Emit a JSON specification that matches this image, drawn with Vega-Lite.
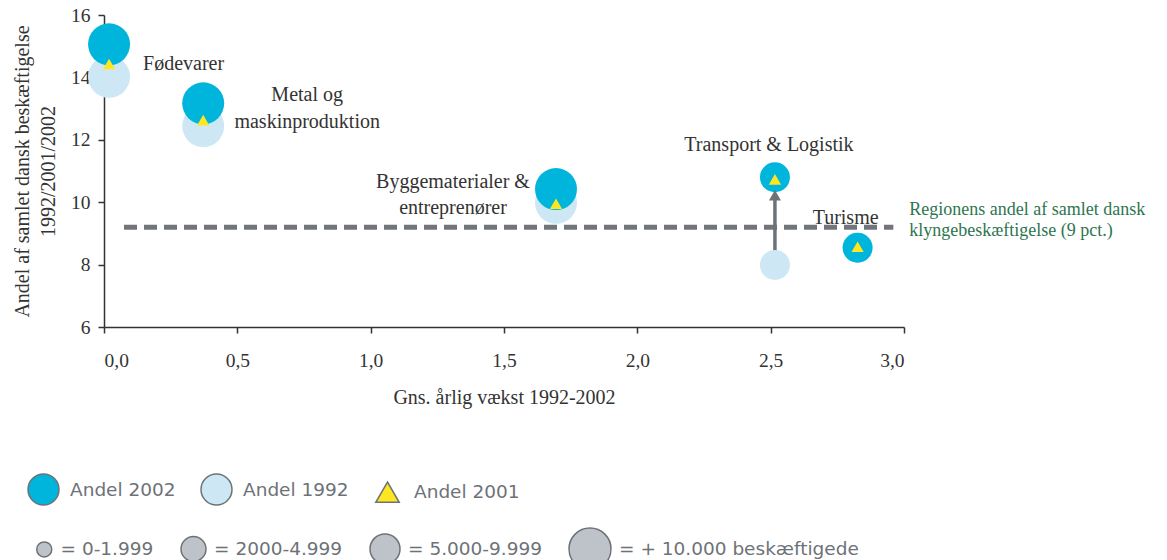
{
  "$schema": "https://vega.github.io/schema/vega-lite/v6.json",
  "width": 800,
  "height": 312,
  "autosize": {"type": "none"},
  "padding": {"left": 104, "top": 15, "right": 263, "bottom": 233},
  "background": "white",
  "datasets": {
    "clusters": [
      {"cluster": "Fødevarer", "growth": 0.019, "year": "Andel 1992", "share": 14.02, "employment": "+ 10.000 beskæftigede"},
      {"cluster": "Fødevarer", "growth": 0.019, "year": "Andel 2002", "share": 15.06, "employment": "+ 10.000 beskæftigede"},
      {"cluster": "Fødevarer", "growth": 0.019, "year": "Andel 2001", "share": 14.43},
      {"cluster": "Metal og maskinproduktion", "growth": 0.372, "year": "Andel 1992", "share": 12.44, "employment": "+ 10.000 beskæftigede"},
      {"cluster": "Metal og maskinproduktion", "growth": 0.372, "year": "Andel 2002", "share": 13.17, "employment": "+ 10.000 beskæftigede"},
      {"cluster": "Metal og maskinproduktion", "growth": 0.372, "year": "Andel 2001", "share": 12.63},
      {"cluster": "Byggematerialer & entreprenører", "growth": 1.695, "year": "Andel 1992", "share": 9.98, "employment": "+ 10.000 beskæftigede"},
      {"cluster": "Byggematerialer & entreprenører", "growth": 1.695, "year": "Andel 2002", "share": 10.42, "employment": "+ 10.000 beskæftigede"},
      {"cluster": "Byggematerialer & entreprenører", "growth": 1.695, "year": "Andel 2001", "share": 9.95},
      {"cluster": "Transport & Logistik", "growth": 2.516, "year": "Andel 1992", "share": 7.99, "employment": "5.000-9.999"},
      {"cluster": "Transport & Logistik", "growth": 2.516, "year": "Andel 2002", "share": 10.8, "employment": "5.000-9.999"},
      {"cluster": "Transport & Logistik", "growth": 2.516, "year": "Andel 2001", "share": 10.73},
      {"cluster": "Turisme", "growth": 2.826, "year": "Andel 1992", "share": 8.54, "employment": "5.000-9.999"},
      {"cluster": "Turisme", "growth": 2.826, "year": "Andel 2002", "share": 8.54, "employment": "5.000-9.999"},
      {"cluster": "Turisme", "growth": 2.826, "year": "Andel 2001", "share": 8.57}
    ],
    "benchmark": [
      {"from": 0.075, "to": 2.96, "share": 9.2}
    ]
  },
  "data": {"name": "clusters"},
  "layer": [
    {
      "data": {"name": "benchmark"},
      "mark": {"type": "rule", "color": "#72767B", "strokeWidth": 5, "strokeDash": [13, 7]},
      "encoding": {
        "x": {"field": "from", "type": "quantitative", "title": "Gns. årlig vækst 1992-2002",
          "scale": {"domain": [0, 3], "nice": false, "zero": false},
          "axis": {"values": [0, 0.5, 1, 1.5, 2, 2.5, 3], "labelExpr": "replace(format(datum.value, '.1f'), '.', ',')", "tickSize": 6, "labelPadding": 18, "titlePadding": 18}},
        "x2": {"field": "to"},
        "y": {"field": "share", "type": "quantitative", "title": ["Andel af samlet dansk beskæftigelse", "1992/2001/2002"],
          "scale": {"domain": [6, 16], "nice": false, "zero": false},
          "axis": {"values": [6, 8, 10, 12, 14, 16], "format": "d", "tickSize": 6, "labelPadding": 8, "titlePadding": 12, "titleLineHeight": 26}}
      }
    },
    {
      "transform": [
        {"pivot": "year", "value": "share", "groupby": ["cluster", "growth"]},
        {"filter": "datum.cluster === 'Transport & Logistik'"}
      ],
      "mark": {"type": "rule", "color": "#6D7278", "strokeWidth": 3.5, "y2Offset": 22},
      "encoding": {
        "x": {"field": "growth", "type": "quantitative", "title": "Gns. årlig vækst 1992-2002"},
        "y": {"field": "Andel 1992", "type": "quantitative", "title": ["Andel af samlet dansk beskæftigelse", "1992/2001/2002"]},
        "y2": {"field": "Andel 2002"}
      }
    },
    {
      "transform": [{"filter": "datum.year === 'Andel 1992'"}],
      "mark": {"type": "point", "filled": true, "opacity": 1, "strokeWidth": 0},
      "encoding": {
        "x": {"field": "growth", "type": "quantitative", "title": "Gns. årlig vækst 1992-2002"},
        "y": {"field": "share", "type": "quantitative", "title": ["Andel af samlet dansk beskæftigelse", "1992/2001/2002"]},
        "fill": {"field": "year", "type": "nominal",
          "scale": {"domain": ["Andel 2002", "Andel 1992", "Andel 2001"], "range": ["#00B5DC", "#CDE8F4", "#FFE620"]},
          "legend": {"orient": "none", "legendX": -77, "legendY": 458, "direction": "horizontal", "title": null, "symbolSize": 961, "labelOffset": 10, "columnPadding": 22, "labelFont": "DejaVu Sans", "labelFontSize": 18.5, "labelColor": "#6D7278", "symbolOpacity": 1,
            "encode": {"symbols": {"update": {"size": {"signal": "datum.value === 'Andel 2001' ? 550 : 961"}, "stroke": {"value": "#6D7278"}, "strokeWidth": {"value": 1.5}}}}}},
        "shape": {"field": "year", "type": "nominal",
          "scale": {"domain": ["Andel 2002", "Andel 1992", "Andel 2001"], "range": ["circle", "circle", "triangle-up"]},
          "legend": {"orient": "none", "legendX": -77, "legendY": 458, "direction": "horizontal", "title": null, "symbolSize": 961, "labelOffset": 10, "columnPadding": 22, "labelFont": "DejaVu Sans", "labelFontSize": 18.5, "labelColor": "#6D7278", "symbolOpacity": 1,
            "encode": {"symbols": {"update": {"size": {"signal": "datum.value === 'Andel 2001' ? 550 : 961"}, "stroke": {"value": "#6D7278"}, "strokeWidth": {"value": 1.5}}}}}},
        "size": {"field": "employment", "type": "ordinal",
          "scale": {"type": "ordinal", "domain": ["0-1.999", "2000-4.999", "5.000-9.999", "+ 10.000 beskæftigede"], "range": [225, 625, 900, 1764]},
          "legend": {"orient": "none", "legendX": -69, "legendY": 512, "direction": "horizontal", "title": null, "labelOffset": 7, "columnPadding": 24, "labelExpr": "'= ' + datum.label", "labelFont": "DejaVu Sans", "labelFontSize": 18.5, "labelColor": "#6D7278", "labelLimit": 400, "symbolOpacity": 1, "symbolFillColor": "#BEC2C9", "symbolStrokeColor": "#6D7278",
            "encode": {"symbols": {"update": {"fill": {"value": "#BEC2C9"}, "stroke": {"value": "#6D7278"}, "strokeWidth": {"value": 1.5}, "shape": {"value": "circle"}}}}}}
      }
    },
    {
      "transform": [{"filter": "datum.year === 'Andel 2002'"}],
      "mark": {"type": "point", "filled": true, "opacity": 1, "strokeWidth": 0},
      "encoding": {
        "x": {"field": "growth", "type": "quantitative", "title": "Gns. årlig vækst 1992-2002"},
        "y": {"field": "share", "type": "quantitative", "title": ["Andel af samlet dansk beskæftigelse", "1992/2001/2002"]},
        "fill": {"field": "year", "type": "nominal",
          "scale": {"domain": ["Andel 2002", "Andel 1992", "Andel 2001"], "range": ["#00B5DC", "#CDE8F4", "#FFE620"]}},
        "shape": {"field": "year", "type": "nominal",
          "scale": {"domain": ["Andel 2002", "Andel 1992", "Andel 2001"], "range": ["circle", "circle", "triangle-up"]}},
        "size": {"field": "employment", "type": "ordinal",
          "scale": {"type": "ordinal", "domain": ["0-1.999", "2000-4.999", "5.000-9.999", "+ 10.000 beskæftigede"], "range": [225, 625, 900, 1764]},
          "legend": {"orient": "none", "legendX": -69, "legendY": 512, "direction": "horizontal", "title": null, "labelOffset": 7, "columnPadding": 24, "labelExpr": "'= ' + datum.label", "labelFont": "DejaVu Sans", "labelFontSize": 18.5, "labelColor": "#6D7278", "labelLimit": 400, "symbolOpacity": 1, "symbolFillColor": "#BEC2C9", "symbolStrokeColor": "#6D7278",
            "encode": {"symbols": {"update": {"fill": {"value": "#BEC2C9"}, "stroke": {"value": "#6D7278"}, "strokeWidth": {"value": 1.5}, "shape": {"value": "circle"}}}}}}
      }
    },
    {
      "transform": [{"filter": "datum.year === 'Andel 2001'"}],
      "mark": {"type": "point", "filled": true, "opacity": 1, "strokeWidth": 0, "size": 150},
      "encoding": {
        "x": {"field": "growth", "type": "quantitative", "title": "Gns. årlig vækst 1992-2002"},
        "y": {"field": "share", "type": "quantitative", "title": ["Andel af samlet dansk beskæftigelse", "1992/2001/2002"]},
        "fill": {"field": "year", "type": "nominal",
          "scale": {"domain": ["Andel 2002", "Andel 1992", "Andel 2001"], "range": ["#00B5DC", "#CDE8F4", "#FFE620"]}},
        "shape": {"field": "year", "type": "nominal",
          "scale": {"domain": ["Andel 2002", "Andel 1992", "Andel 2001"], "range": ["circle", "circle", "triangle-up"]}}
      }
    },
    {
      "transform": [{"filter": "datum.year === 'Andel 2002' && datum.cluster === 'Transport & Logistik'"}],
      "mark": {"type": "point", "shape": "triangle-up", "filled": true, "opacity": 1, "color": "#6D7278", "size": 144, "yOffset": 18},
      "encoding": {
        "x": {"field": "growth", "type": "quantitative", "title": "Gns. årlig vækst 1992-2002"},
        "y": {"field": "share", "type": "quantitative", "title": ["Andel af samlet dansk beskæftigelse", "1992/2001/2002"]}
      }
    },
    {
      "transform": [{"filter": "datum.year === 'Andel 2002' && datum.cluster === 'Fødevarer'"}],
      "mark": {"type": "text", "align": "left", "baseline": "middle", "dx": 34, "dy": 20, "font": "Liberation Serif", "fontSize": 20, "color": "#333333"},
      "encoding": {
        "x": {"field": "growth", "type": "quantitative", "title": "Gns. årlig vækst 1992-2002"},
        "y": {"field": "share", "type": "quantitative", "title": ["Andel af samlet dansk beskæftigelse", "1992/2001/2002"]},
        "text": {"field": "cluster"}
      }
    },
    {
      "transform": [{"filter": "datum.year === 'Andel 2002' && datum.cluster === 'Metal og maskinproduktion'"}],
      "mark": {"type": "text", "align": "center", "baseline": "middle", "dx": 104, "dy": -8.5, "lineHeight": 27, "text": ["Metal og", "maskinproduktion"], "font": "Liberation Serif", "fontSize": 20, "color": "#333333"},
      "encoding": {
        "x": {"field": "growth", "type": "quantitative", "title": "Gns. årlig vækst 1992-2002"},
        "y": {"field": "share", "type": "quantitative", "title": ["Andel af samlet dansk beskæftigelse", "1992/2001/2002"]}
      }
    },
    {
      "transform": [{"filter": "datum.year === 'Andel 2002' && datum.cluster === 'Byggematerialer & entreprenører'"}],
      "mark": {"type": "text", "align": "center", "baseline": "middle", "dx": -103, "dy": -7, "lineHeight": 26, "text": ["Byggematerialer &", "entreprenører"], "font": "Liberation Serif", "fontSize": 20, "color": "#333333"},
      "encoding": {
        "x": {"field": "growth", "type": "quantitative", "title": "Gns. årlig vækst 1992-2002"},
        "y": {"field": "share", "type": "quantitative", "title": ["Andel af samlet dansk beskæftigelse", "1992/2001/2002"]}
      }
    },
    {
      "transform": [{"filter": "datum.year === 'Andel 2002' && datum.cluster === 'Transport & Logistik'"}],
      "mark": {"type": "text", "align": "center", "baseline": "middle", "dx": -6, "dy": -32, "font": "Liberation Serif", "fontSize": 20, "color": "#333333"},
      "encoding": {
        "x": {"field": "growth", "type": "quantitative", "title": "Gns. årlig vækst 1992-2002"},
        "y": {"field": "share", "type": "quantitative", "title": ["Andel af samlet dansk beskæftigelse", "1992/2001/2002"]},
        "text": {"field": "cluster"}
      }
    },
    {
      "transform": [{"filter": "datum.year === 'Andel 2002' && datum.cluster === 'Turisme'"}],
      "mark": {"type": "text", "align": "center", "baseline": "middle", "dx": -12, "dy": -30, "font": "Liberation Serif", "fontSize": 20, "color": "#333333"},
      "encoding": {
        "x": {"field": "growth", "type": "quantitative", "title": "Gns. årlig vækst 1992-2002"},
        "y": {"field": "share", "type": "quantitative", "title": ["Andel af samlet dansk beskæftigelse", "1992/2001/2002"]},
        "text": {"field": "cluster"}
      }
    },
    {
      "data": {"name": "benchmark"},
      "mark": {"type": "text", "align": "left", "baseline": "middle", "dx": 16, "dy": -17, "lineHeight": 21, "text": ["Regionens andel af samlet dansk", "klyngebeskæftigelse (9 pct.)"], "font": "Liberation Serif", "fontSize": 18, "color": "#2E7550"},
      "encoding": {
        "x": {"field": "to", "type": "quantitative", "title": "Gns. årlig vækst 1992-2002"},
        "y": {"field": "share", "type": "quantitative", "title": ["Andel af samlet dansk beskæftigelse", "1992/2001/2002"]}
      }
    }
  ],
  "config": {
    "view": {"stroke": null},
    "legend": {"symbolBaseFillColor": "#BEC2C9", "symbolBaseStrokeColor": "#6D7278"},
    "axis": {
      "grid": false,
      "domainColor": "#333333", "domainWidth": 1.5,
      "tickColor": "#333333", "tickWidth": 1.5,
      "labelColor": "#333333", "titleColor": "#333333",
      "labelFont": "Liberation Serif", "titleFont": "Liberation Serif",
      "labelFontSize": 19.5, "titleFontSize": 20, "titleFontWeight": "normal"
    }
  }
}
